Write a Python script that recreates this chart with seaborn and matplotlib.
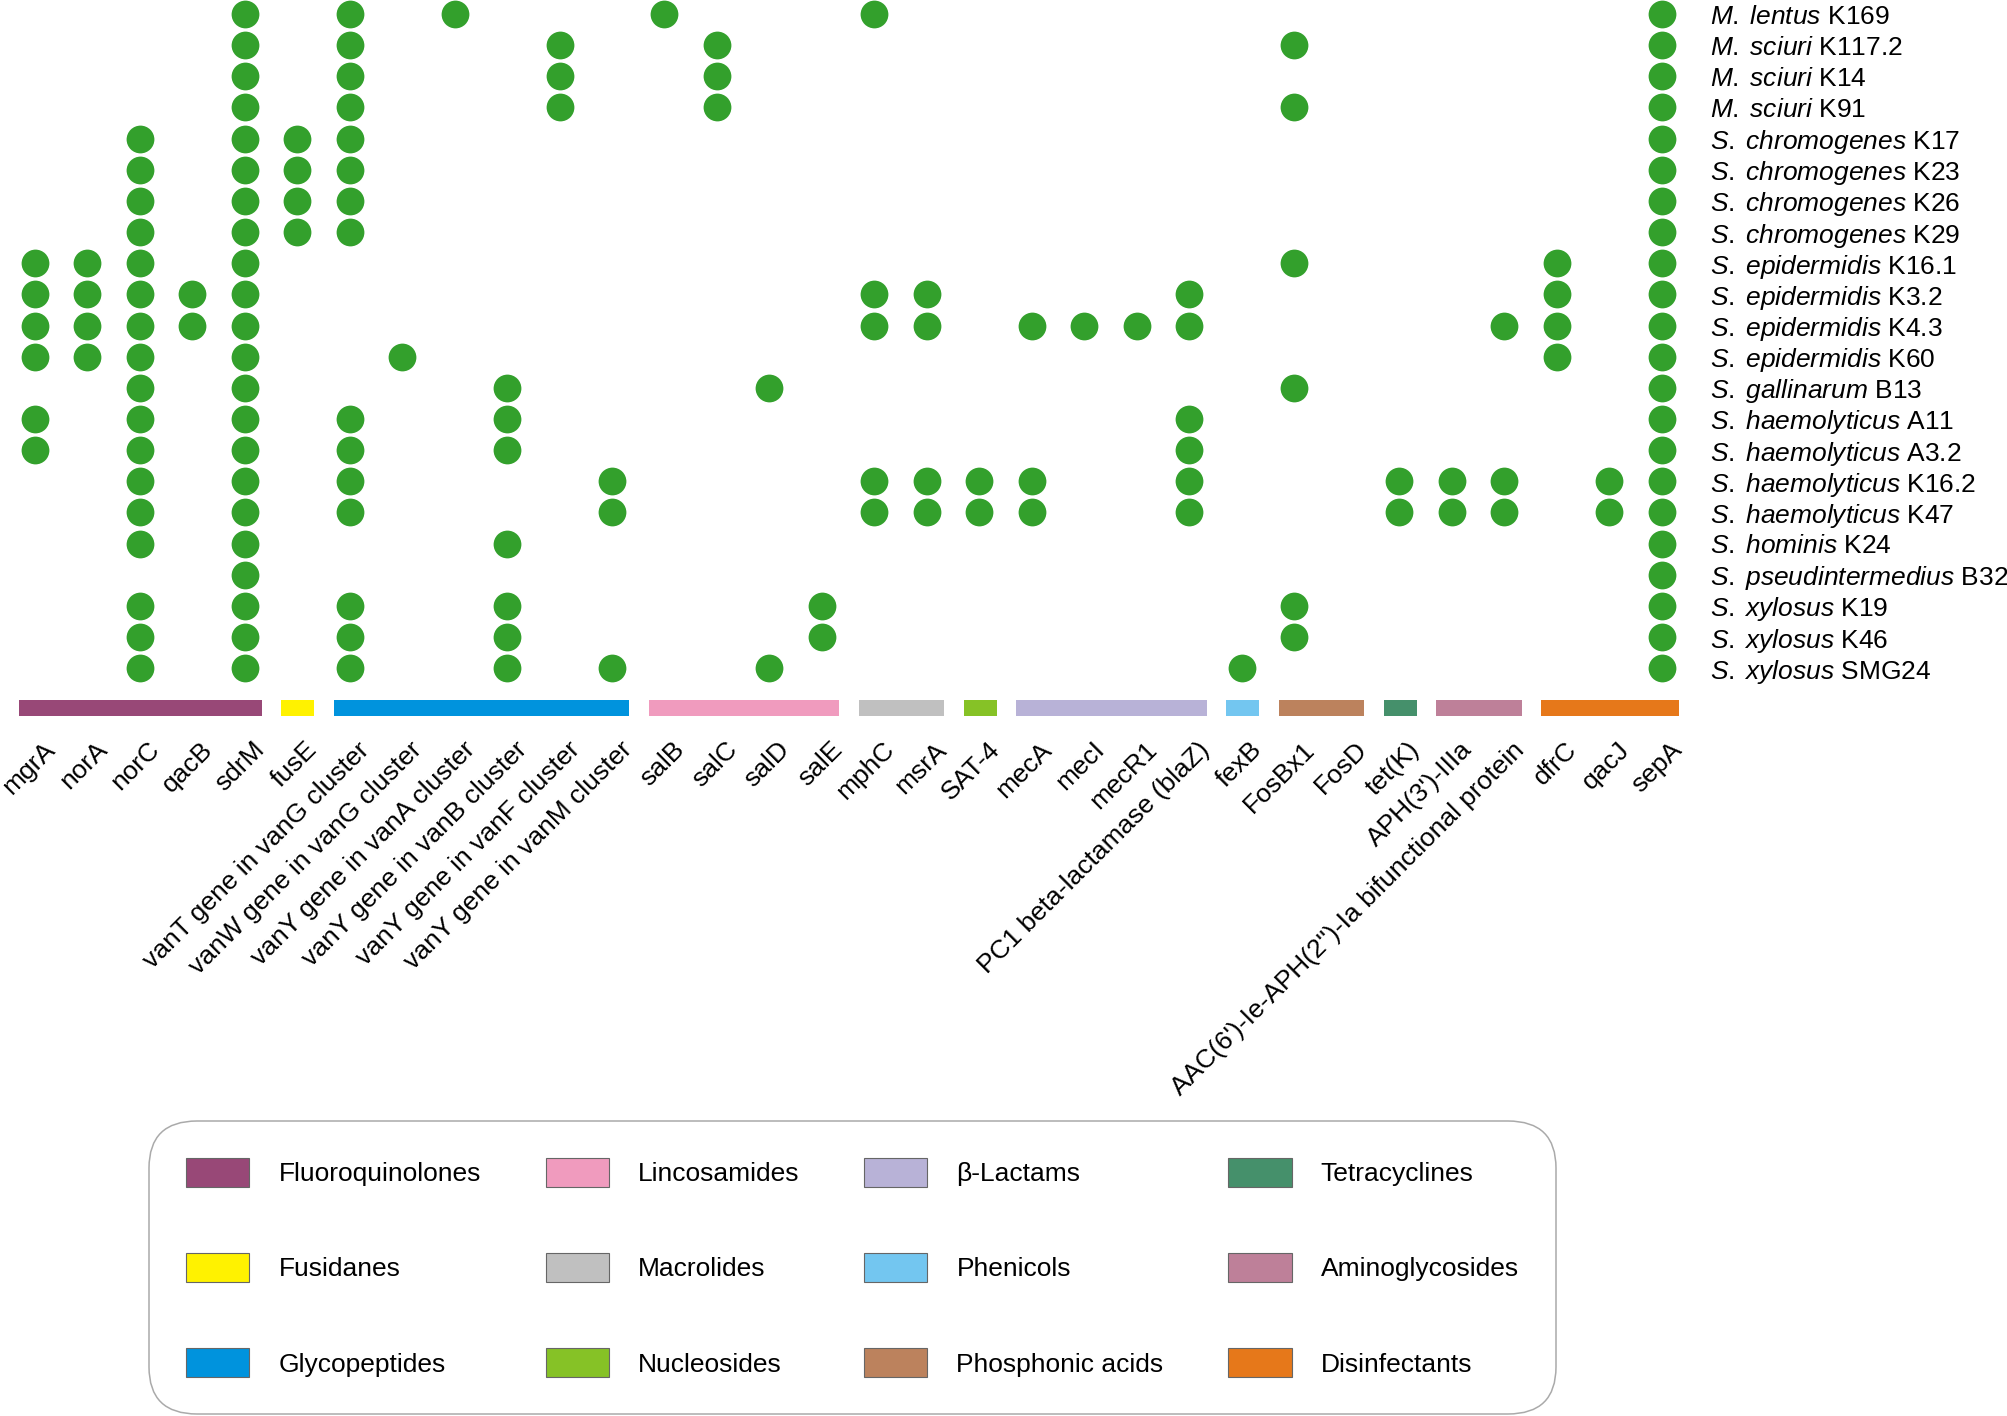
import numpy as np
import pandas as pd
import seaborn as sns
import matplotlib
matplotlib.use('Agg')
import matplotlib.pyplot as plt
from matplotlib.patches import Patch

# strains (rows, top to bottom): species + isolate
species = ["M. lentus", "M. sciuri", "M. sciuri", "M. sciuri",
           "S. chromogenes", "S. chromogenes", "S. chromogenes", "S. chromogenes",
           "S. epidermidis", "S. epidermidis", "S. epidermidis", "S. epidermidis",
           "S. gallinarum", "S. haemolyticus", "S. haemolyticus", "S. haemolyticus",
           "S. haemolyticus", "S. hominis", "S. pseudintermedius",
           "S. xylosus", "S. xylosus", "S. xylosus"]
isolates = ["K169", "K117.2", "K14", "K91", "K17", "K23", "K26", "K29",
            "K16.1", "K3.2", "K4.3", "K60", "B13", "A11", "A3.2", "K16.2",
            "K47", "K24", "B32", "K19", "K46", "SMG24"]

genes = ["mgrA", "norA", "norC", "qacB", "sdrM", "fusE",
         "vanT gene in vanG cluster", "vanW gene in vanG cluster",
         "vanY gene in vanA cluster", "vanY gene in vanB cluster",
         "vanY gene in vanF cluster", "vanY gene in vanM cluster",
         "salB", "salC", "salD", "salE", "mphC", "msrA", "SAT-4",
         "mecA", "mecI", "mecR1", "PC1 beta-lactamase (blaZ)", "fexB",
         "FosBx1", "FosD", "tet(K)", "APH(3')-IIIa",
         "AAC(6')-Ie-APH(2'')-Ia bifunctional protein",
         "dfrC", "qacJ", "sepA"]

gene_class = ["Fluoroquinolones"] * 5 + ["Fusidanes"] + ["Glycopeptides"] * 6 + \
             ["Lincosamides"] * 4 + ["Macrolides"] * 2 + ["Nucleosides"] + \
             ["β-Lactams"] * 4 + ["Phenicols"] + ["Phosphonic acids"] * 2 + \
             ["Tetracyclines"] + ["Aminoglycosides"] * 2 + ["Disinfectants"] * 3

# strain indices carrying each gene
hits = [
    [8, 9, 10, 11, 13, 14],
    [8, 9, 10, 11],
    [4, 5, 6, 7, 8, 9, 10, 11, 12, 13, 14, 15, 16, 17, 19, 20, 21],
    [9, 10],
    [0, 1, 2, 3, 4, 5, 6, 7, 8, 9, 10, 11, 12, 13, 14, 15, 16, 17, 18, 19, 20, 21],
    [4, 5, 6, 7],
    [0, 1, 2, 3, 4, 5, 6, 7, 13, 14, 15, 16, 19, 20, 21],
    [11],
    [0],
    [12, 13, 14, 17, 19, 20, 21],
    [1, 2, 3],
    [15, 16, 21],
    [0],
    [1, 2, 3],
    [12, 21],
    [19, 20],
    [0, 9, 10, 15, 16],
    [9, 10, 15, 16],
    [15, 16],
    [10, 15, 16],
    [10],
    [10],
    [9, 10, 13, 14, 15, 16],
    [21],
    [1, 3, 8, 12, 19, 20],
    [],
    [15, 16],
    [15, 16],
    [10, 15, 16],
    [8, 9, 10, 11],
    [15, 16],
    [0, 1, 2, 3, 4, 5, 6, 7, 8, 9, 10, 11, 12, 13, 14, 15, 16, 17, 18, 19, 20, 21],
]

classes = ["Fluoroquinolones", "Fusidanes", "Glycopeptides", "Lincosamides",
           "Macrolides", "Nucleosides", "β-Lactams", "Phenicols",
           "Phosphonic acids", "Tetracyclines", "Aminoglycosides", "Disinfectants"]
class_colors = ["#984877", "#FFF200", "#0093DD", "#F09BBE", "#C0C0C0", "#86C226",
                "#B8B2D7", "#73C6F0", "#BC825D", "#45906B", "#BE8099", "#E6781A"]

sns.set_theme(style="white")
plt.rcParams['font.family'] = ['Liberation Sans', 'DejaVu Sans']
plt.rcParams['mathtext.fontset'] = 'custom'
plt.rcParams['mathtext.rm'] = 'Liberation Sans'
plt.rcParams['mathtext.it'] = 'Liberation Sans:italic'
plt.rcParams['text.color'] = 'black'
plt.rcParams['xtick.color'] = 'black'
plt.rcParams['ytick.color'] = 'black'

rows = []
for gi, strain_idx in enumerate(hits):
    for si in strain_idx:
        rows.append({"gene": gi, "strain": si})
df = pd.DataFrame(rows)

fig = plt.figure(figsize=(20.08, 14.16), dpi=100)
ax = fig.add_axes([0.0042, 0.4929, 0.8364, 0.5071])

sns.scatterplot(data=df, x="gene", y="strain", s=400, color="#33A02C",
                linewidth=0, ax=ax, legend=False)

# class bars under the gene columns
for cls, col in zip(classes, class_colors):
    idx = [i for i, c in enumerate(gene_class) if c == cls]
    left, right = idx[0] - 0.3, idx[-1] + 0.33
    ax.bar((left + right) / 2, 0.52, width=right - left, bottom=22.02,
           color=col, linewidth=0)

ax.set_xlim(-0.5, len(genes) - 0.5)
ax.set_ylim(22.6, -0.45)
# ticks are hidden; nudge them so the rotated labels end just right of each column
ax.set_xticks([i + 0.15 for i in range(len(genes))])
ax.set_xticklabels(genes, rotation=45, ha="right", va="top",
                   rotation_mode="anchor", fontsize=19)
ax.yaxis.tick_right()
ax.set_yticks(range(len(species)))
ax.set_yticklabels([r"$\mathit{%s}$ %s" % (sp.replace(" ", r"\;"), iso)
                    for sp, iso in zip(species, isolates)], fontsize=19)
ax.tick_params(axis="x", length=0, pad=14)
ax.tick_params(axis="y", length=0, pad=16)
ax.set_xlabel("")
ax.set_ylabel("")
sns.despine(ax=ax, left=True, bottom=True)

handles = [Patch(facecolor=c, edgecolor="#666666", linewidth=0.8, label=l)
           for l, c in zip(classes, class_colors)]
leg = fig.legend(handles=handles, ncol=4, loc="upper center",
                 bbox_to_anchor=(0.4245, 0.2084), borderaxespad=0, fontsize=19,
                 handlelength=2.4, handleheight=1.3, labelspacing=2.52,
                 columnspacing=2.45, handletextpad=1.1, borderpad=1.4,
                 frameon=True, fancybox=True)
frame = leg.get_frame()
frame.set_boxstyle("round,pad=0,rounding_size=1.8")
frame.set_edgecolor("#AAAAAA")
frame.set_linewidth(1.1)
frame.set_alpha(1)

fig.savefig("out.png", dpi=100, facecolor="white")
